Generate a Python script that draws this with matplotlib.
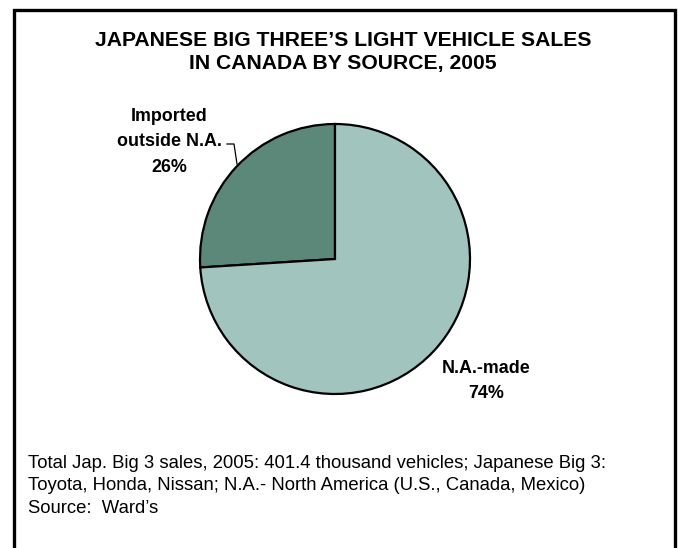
import matplotlib
matplotlib.use("Agg")
import matplotlib.pyplot as plt
from matplotlib.lines import Line2D

plt.rcParams['font.family'] = ['Liberation Sans', 'DejaVu Sans']

# Data
sources = ["Imported\noutside N.A.", "N.A.-made"]
shares = [26, 74]
colors = ["#5B8878", "#A2C4BE"]

title = "JAPANESE BIG THREE\u2019S LIGHT VEHICLE SALES\nIN CANADA BY SOURCE, 2005"
footnote = ("Total Jap. Big 3 sales, 2005: 401.4 thousand vehicles; Japanese Big 3:\n"
            "Toyota, Honda, Nissan; N.A.- North America (U.S., Canada, Mexico)\n"
            "Source:  Ward\u2019s")

W, H = 678, 548
fig = plt.figure(figsize=(W / 100, H / 100), dpi=100)
ax = fig.add_axes([0, 0, 1, 1])

def py(y):
    return H - y

# Pie
cx, cy, r = 335, py(259), 135
ax.pie(shares, colors=colors, startangle=90, counterclock=True,
       center=(cx, cy), radius=r, frame=True,
       wedgeprops=dict(edgecolor='black', linewidth=1.6))
ax.set_xlim(0, W)
ax.set_ylim(0, H)
ax.set_aspect('equal')
ax.axis('off')

# Outer frame (open at bottom)
ax.add_line(Line2D([13.5, 13.5, 674.5, 674.5], [py(H + 5), py(9.5), py(9.5), py(H + 5)],
                   color='black', lw=2.4, solid_joinstyle='miter', clip_on=False))

# Title
ax.text(343, py(52), title, ha='center', va='center', fontsize=15.2,
        fontweight='bold', linespacing=1.25)

# Slice labels
ax.text(169, py(142), f"{sources[0]}\n{shares[0]}%", ha='center', va='center',
        fontsize=12.9, fontweight='bold', linespacing=1.62)
ax.text(486, py(381), f"{sources[1]}\n{shares[1]}%", ha='center', va='center',
        fontsize=12.9, fontweight='bold', linespacing=1.55)

# Leader line for the small slice
ax.add_line(Line2D([227, 234, 237], [py(144), py(144), py(164)], color='black', lw=0.9))

# Footnote
ax.text(28, py(486), footnote, ha='left', va='center', fontsize=13.3, linespacing=1.4)

fig.savefig("out.png", dpi=100)
